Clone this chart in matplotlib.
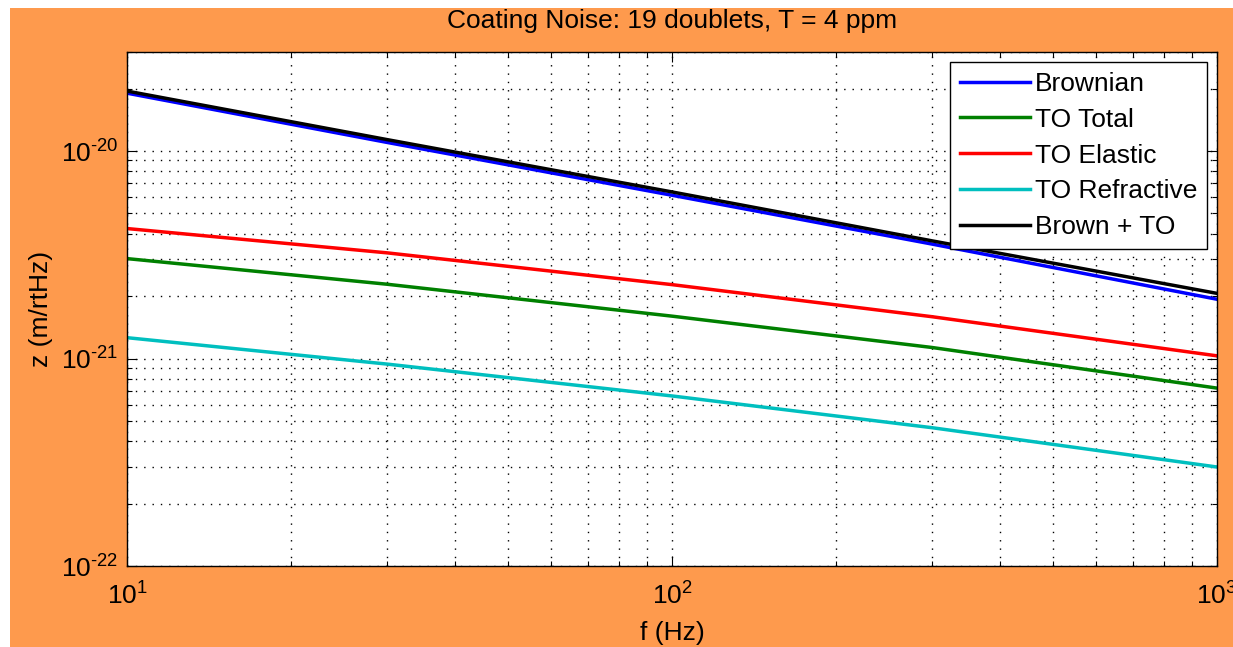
import matplotlib
matplotlib.use("Agg")
import matplotlib.pyplot as plt
from matplotlib.patches import Rectangle
from matplotlib.ticker import FuncFormatter, NullFormatter
import numpy as np

# ---- data ----
freq = [10, 30, 100, 300, 1000]
brownian = [1.90e-20, 1.10e-20, 6.12e-21, 3.56e-21, 1.93e-21]
to_total = [3.03e-21, 2.28e-21, 1.60e-21, 1.13e-21, 7.2e-22]
to_elastic = [4.23e-21, 3.23e-21, 2.27e-21, 1.59e-21, 1.03e-21]
to_refractive = [1.26e-21, 9.4e-22, 6.6e-22, 4.64e-22, 3.0e-22]
brown_to = [1.945e-20, 1.135e-20, 6.35e-21, 3.69e-21, 2.06e-21]

labels = ["Brownian", "TO Total", "TO Elastic", "TO Refractive", "Brown + TO"]
title = "Coating Noise: 19 doublets, T = 4 ppm"
xlabel = "f (Hz)"
ylabel = "z (m/rtHz)"

plt.rcParams['font.family'] = ['Liberation Sans', 'DejaVu Sans']
plt.rcParams['axes.unicode_minus'] = False
plt.rcParams['mathtext.fontset'] = 'custom'
plt.rcParams['mathtext.rm'] = 'Liberation Sans'
plt.rcParams['mathtext.it'] = 'Liberation Sans'

W, H = 1233, 647
fig = plt.figure(figsize=(W / 100, H / 100), dpi=100, facecolor='white')
orange = '#FE9A4D'
fig.patches.append(Rectangle((10 / W, 0), 1 - 10 / W, 1 - 8 / H,
                             transform=fig.transFigure, facecolor=orange,
                             edgecolor='none', zorder=-10))

ax = fig.add_axes([127 / W, (H - 566) / H, (1217 - 127) / W, (566 - 52) / H])
ax.set_facecolor('white')

lw = 2.5
ax.loglog(freq, brownian, color='#0000FF', lw=lw, label=labels[0])
ax.loglog(freq, to_total, color='#008000', lw=lw, label=labels[1])
ax.loglog(freq, to_elastic, color='#FF0000', lw=lw, label=labels[2])
ax.loglog(freq, to_refractive, color='#00BFBF', lw=lw, label=labels[3])
ax.loglog(freq, brown_to, color='#000000', lw=lw, label=labels[4])

ax.set_xlim(10, 1000)
ax.set_ylim(1e-22, 3e-20)

ax.grid(True, which='both', color='black', linestyle=(0, (1, 5)), lw=1.0)
ax.set_axisbelow(True)


def pow_label(v, pos):
    e = int(round(np.log10(v)))
    if e < 0:
        return '$\\mathdefault{10^{\u2010' + str(-e) + '}}$'
    return '$\\mathdefault{10^{' + str(e) + '}}$'


ax.xaxis.set_major_formatter(FuncFormatter(pow_label))
ax.yaxis.set_major_formatter(FuncFormatter(pow_label))
ax.yaxis.set_minor_formatter(NullFormatter())
ax.xaxis.set_minor_formatter(NullFormatter())

ax.tick_params(which='both', direction='in', top=True, right=True,
               labelsize=19, colors='black')
ax.tick_params(which='major', length=7, width=0.8)
ax.tick_params(which='minor', length=3.5, width=0.8)
ax.tick_params(axis='x', which='major', pad=12)
ax.tick_params(axis='y', which='major', pad=6)

for s in ax.spines.values():
    s.set_color('black')
    s.set_linewidth(1.0)

ax.set_title(title, fontsize=19, pad=17)
ax.set_xlabel(xlabel, fontsize=19, labelpad=8)
ax.set_ylabel(ylabel, fontsize=19, labelpad=6)

leg = ax.legend(loc='upper right', fontsize=19, frameon=True, fancybox=False,
                edgecolor='black', framealpha=1, borderaxespad=0.37,
                handlelength=2.65, handletextpad=0.2, labelspacing=0.45,
                borderpad=0.38)
leg.get_frame().set_linewidth(1.0)

fig.savefig('out.png', dpi=100, facecolor=fig.get_facecolor())
